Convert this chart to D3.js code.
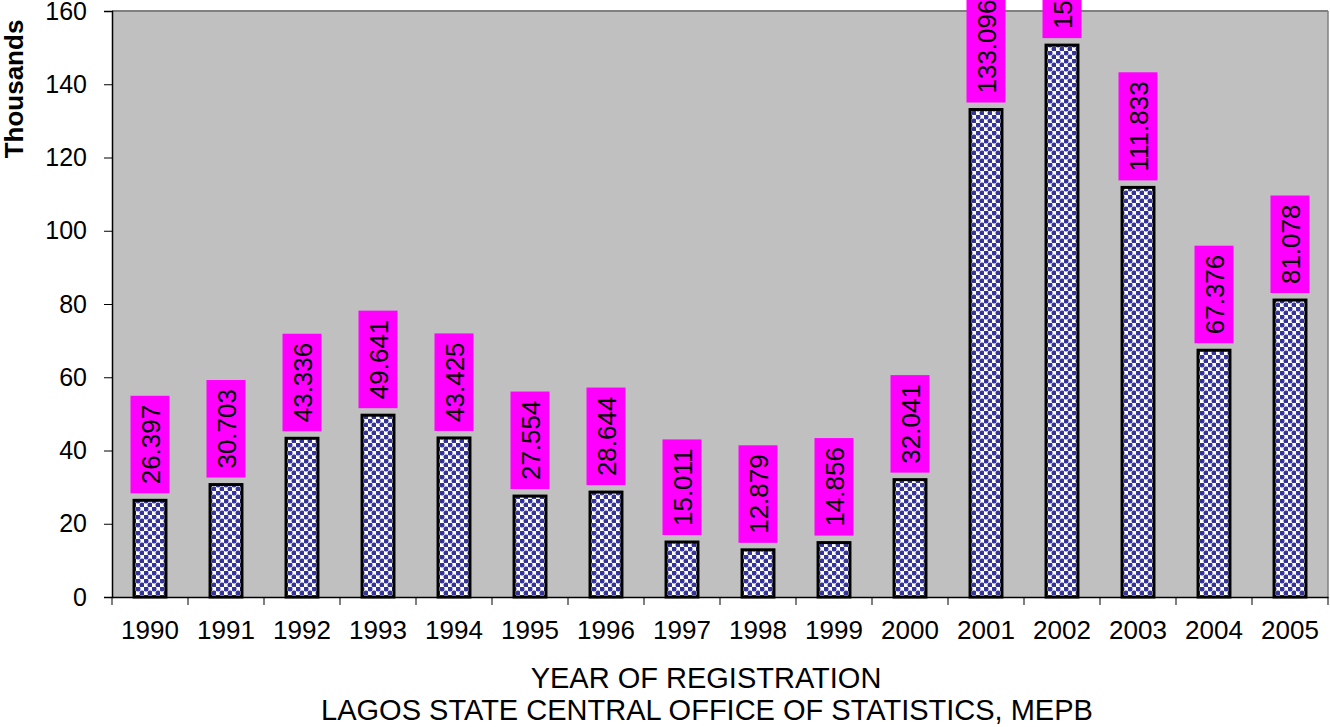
<!DOCTYPE html>
<html>
<head>
<meta charset="utf-8">
<script src="https://cdn.jsdelivr.net/npm/d3@7"></script>
<style>
  body { margin: 0; background: #fff; }
  text { font-family: "Liberation Sans", Arial, sans-serif; }
</style>
</head>
<body>
<script>
const years = ['1990', '1991', '1992', '1993', '1994', '1995', '1996', '1997',
               '1998', '1999', '2000', '2001', '2002', '2003', '2004', '2005'];
const registrations = [26.397, 30.703, 43.336, 49.641, 43.425, 27.554, 28.644, 15.011,
                       12.879, 14.856, 32.041, 133.096, 150.684, 111.833, 67.376, 81.078];
const yTicks = [0, 20, 40, 60, 80, 100, 120, 140, 160];

const width = 1330;
const height = 727;
const margin = {left: 112, right: 2, top: 11, bottom: 130};
const plotW = width - margin.left - margin.right;
const plotH = height - margin.top - margin.bottom;

const data = years.map((y, i) => ({year: y, value: registrations[i]}));

const svg = d3.select('body').append('svg')
    .attr('width', width)
    .attr('height', height);

// checkered dot fill like the excel pattern
const defs = svg.append('defs');
const pat = defs.append('pattern')
    .attr('id', 'dots')
    .attr('patternUnits', 'userSpaceOnUse')
    .attr('width', 8)
    .attr('height', 8);
pat.append('rect').attr('width', 8).attr('height', 8).attr('fill', '#fff');
pat.append('circle').attr('cx', 2).attr('cy', 2).attr('r', 2.5).attr('fill', '#333399');
pat.append('circle').attr('cx', 6).attr('cy', 6).attr('r', 2.5).attr('fill', '#333399');

const g = svg.append('g')
    .attr('transform', `translate(${margin.left}, ${margin.top})`);

const xScale = d3.scaleBand()
    .domain(years)
    .range([0, plotW])
    .paddingInner(0.58)
    .paddingOuter(0.29);

const xTicks = d3.scaleBand().domain(years).range([0, plotW]);

const yScale = d3.scaleLinear()
    .domain([0, 160])
    .range([plotH, 0]);

// plot background
g.append('rect')
    .attr('width', plotW)
    .attr('height', plotH)
    .attr('fill', '#c0c0c0');
g.append('line')
    .attr('x1', 0).attr('x2', plotW).attr('y1', 0).attr('y2', 0)
    .attr('stroke', '#808080').attr('stroke-width', 2);
g.append('line')
    .attr('x1', plotW).attr('x2', plotW).attr('y1', 0).attr('y2', plotH)
    .attr('stroke', '#808080').attr('stroke-width', 1.5);

// bars
g.selectAll('rect.bar')
    .data(data)
    .enter()
    .append('rect')
    .attr('class', 'bar')
    .attr('x', d => xScale(d.year))
    .attr('y', d => yScale(d.value))
    .attr('width', xScale.bandwidth())
    .attr('height', d => plotH - yScale(d.value))
    .attr('fill', 'url(#dots)')
    .attr('stroke', '#000')
    .attr('stroke-width', 3);

// data labels, rotated in magenta boxes
const labels = g.selectAll('g.label')
    .data(data)
    .enter()
    .append('g')
    .attr('class', 'label')
    .attr('transform', d => `translate(${xScale(d.year) + xScale.bandwidth() / 2}, ${yScale(d.value) - 7}) rotate(-90)`);

labels.append('text')
    .attr('x', 9)
    .attr('y', 9.5)
    .attr('font-size', 26)
    .text(d => d.value.toFixed(3))
    .each(function() {
        const bb = this.getBBox();
        d3.select(this.parentNode).insert('rect', 'text')
            .attr('x', 0)
            .attr('y', -19.5)
            .attr('width', bb.width + 18)
            .attr('height', 39)
            .attr('fill', '#ff00ff');
    });

// axes
const yAxis = d3.axisLeft(yScale).tickValues(yTicks).tickSize(8).tickPadding(17);
const yG = g.append('g').call(yAxis);
yG.selectAll('text').attr('font-size', 25).attr('fill', '#000');
yG.select('.domain').attr('stroke', '#000').attr('stroke-width', 1.5);

const xAxis = d3.axisBottom(xTicks).tickSize(0).tickPadding(24);
const xG = g.append('g')
    .attr('transform', `translate(0, ${plotH})`)
    .call(xAxis);
xG.selectAll('text').attr('font-size', 26).attr('fill', '#000');
xG.select('.domain').attr('stroke', '#000').attr('stroke-width', 1.5);

// tick marks between categories
g.append('g')
    .selectAll('line')
    .data(d3.range(years.length + 1))
    .enter()
    .append('line')
    .attr('x1', i => i * xTicks.step())
    .attr('x2', i => i * xTicks.step())
    .attr('y1', plotH)
    .attr('y2', plotH + 8)
    .attr('stroke', '#000');

// titles
svg.append('text')
    .attr('transform', `translate(23, 89) rotate(-90)`)
    .attr('text-anchor', 'middle')
    .attr('font-size', 26)
    .attr('font-weight', 'bold')
    .text('Thousands');

svg.append('text')
    .attr('x', 706)
    .attr('y', 688)
    .attr('text-anchor', 'middle')
    .attr('font-size', 29)
    .text('YEAR OF REGISTRATION');

svg.append('text')
    .attr('x', 707)
    .attr('y', 720)
    .attr('text-anchor', 'middle')
    .attr('font-size', 29)
    .text('LAGOS STATE CENTRAL OFFICE OF STATISTICS, MEPB');
</script>
</body>
</html>
